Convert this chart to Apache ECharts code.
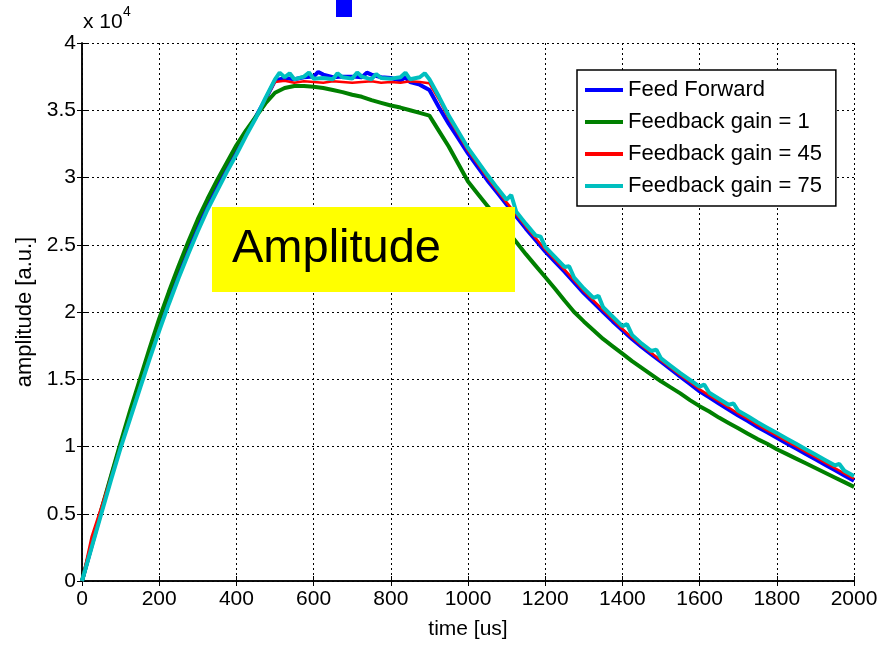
<!DOCTYPE html>
<html><head><meta charset="utf-8">
<script src="https://cdn.jsdelivr.net/npm/echarts@6/dist/echarts.min.js"></script>
<style>html,body{margin:0;padding:0;background:#fff}#c{width:881px;height:645px}</style>
</head><body><div id="c"></div>
<script>
// time axis [us]
const timeUs = [0,25,50,75,100,125,150,175,200,225,250,275,300,325,350,375,400,425,450,475,500,525,550,575,600,625,650,675,700,725,750,775,800,825,850,875,900,925,950,975,1000,1025,1050,1075,1100,1125,1150,1175,1200,1225,1250,1275,1300,1325,1350,1375,1400,1425,1450,1475,1500,1525,1550,1575,1600,1625,1650,1675,1700,1725,1750,1775,1800,1825,1850,1875,1900,1925,1950,1975,2000];
// amplitude in units of 1e4
const feedForward = [0,0.26,0.52,0.77,1.01,1.24,1.46,1.68,1.90,2.10,2.29,2.47,2.64,2.79,2.93,3.07,3.20,3.33,3.45,3.58,3.72,3.74,3.73,3.745,3.75,3.765,3.745,3.75,3.75,3.745,3.765,3.745,3.74,3.72,3.71,3.69,3.65,3.52,3.40,3.29,3.18,3.08,2.98,2.89,2.80,2.71,2.62,2.535,2.45,2.375,2.30,2.22,2.14,2.07,2.00,1.93,1.865,1.80,1.74,1.685,1.63,1.575,1.52,1.465,1.41,1.365,1.32,1.275,1.23,1.19,1.145,1.105,1.065,1.025,0.985,0.945,0.905,0.865,0.825,0.785,0.745];
const feedbackGain1 = [0,0.27,0.53,0.78,1.03,1.27,1.50,1.73,1.95,2.15,2.34,2.52,2.69,2.84,2.98,3.11,3.24,3.35,3.45,3.55,3.63,3.665,3.68,3.68,3.675,3.665,3.65,3.635,3.615,3.60,3.575,3.555,3.535,3.52,3.50,3.48,3.46,3.345,3.23,3.10,2.97,2.88,2.79,2.70,2.61,2.52,2.43,2.345,2.26,2.175,2.085,2.00,1.93,1.865,1.80,1.745,1.69,1.635,1.585,1.535,1.485,1.44,1.395,1.345,1.30,1.26,1.215,1.175,1.135,1.095,1.055,1.02,0.98,0.945,0.91,0.875,0.84,0.805,0.77,0.735,0.70];
const feedbackGain45 = [0,0.33,0.55,0.77,1.00,1.22,1.44,1.66,1.87,2.07,2.26,2.44,2.61,2.77,2.91,3.05,3.18,3.32,3.44,3.58,3.71,3.72,3.705,3.715,3.71,3.705,3.715,3.71,3.705,3.71,3.715,3.705,3.71,3.705,3.715,3.71,3.70,3.58,3.44,3.32,3.20,3.10,3.00,2.905,2.815,2.725,2.635,2.55,2.465,2.39,2.315,2.235,2.155,2.085,2.015,1.945,1.875,1.81,1.75,1.695,1.64,1.585,1.53,1.48,1.425,1.38,1.335,1.29,1.245,1.205,1.16,1.12,1.08,1.04,1.00,0.96,0.92,0.88,0.84,0.80,0.76];
const feedbackGain75 = [0,0.25,0.50,0.75,0.99,1.21,1.43,1.65,1.86,2.06,2.25,2.43,2.60,2.76,2.90,3.04,3.17,3.31,3.44,3.59,3.73,3.745,3.73,3.75,3.735,3.74,3.73,3.745,3.735,3.75,3.73,3.74,3.735,3.745,3.73,3.745,3.73,3.60,3.46,3.34,3.22,3.12,3.02,2.925,2.835,2.745,2.655,2.57,2.485,2.41,2.335,2.255,2.175,2.105,2.035,1.965,1.895,1.83,1.765,1.71,1.655,1.60,1.545,1.495,1.445,1.40,1.355,1.31,1.265,1.225,1.18,1.14,1.10,1.06,1.02,0.98,0.94,0.90,0.86,0.82,0.78];
// narrow noise spikes on the gain = 75 trace, [time us, amplitude 1e4]
const gain75Spikes = [[512,3.78],[538,3.775],[588,3.78],[662,3.775],[713,3.78],[762,3.77],[838,3.78],[888,3.775],[1112,2.87],[1188,2.56],[1262,2.34],[1338,2.12],[1412,1.91],[1488,1.72],[1612,1.46],[1688,1.32],[1962,0.87]];
const ffSpikes = [[612,3.785],[738,3.78],[837,3.745]];
const seriesNames = ['Feed Forward','Feedback gain = 1','Feedback gain = 45','Feedback gain = 75'];
const seriesColors = ['#0000ff','#008000','#ff0000','#00bfbf'];
const seriesWidths = [4,4,2.5,4];
const xTicks = {min:0,max:2000,interval:200};
const yTicks = {min:0,max:4,interval:0.5};

const allValues = [feedForward, feedbackGain1, feedbackGain45, feedbackGain75];
const extraPoints = [ffSpikes, [], [], gain75Spikes];
const font = "'Liberation Sans', Arial, sans-serif";
const chart = echarts.init(document.getElementById('c'), null, {renderer:'canvas'});
const grid = {left:82, right:27, top:43, bottom:61};
const axisLine = {show:true, lineStyle:{color:'#000', width:1.5}};
const tick = {show:true, inside:true, length:5, lineStyle:{color:'#000', width:1}};
function buildData(vals, extra){
  const pts = timeUs.map((t,k)=>[t, vals[k]]).concat(extra);
  pts.sort((a,b)=>a[0]-b[0]);
  return pts;
}
chart.setOption({
  animation:false,
  backgroundColor:'#fff',
  grid:grid,
  legend:{
    show:true, orient:'vertical', left:577, top:70,
    padding:[9,14,9,8], itemWidth:38, itemHeight:4, itemGap:10,
    icon:'rect', borderColor:'#000', borderWidth:1.5, backgroundColor:'#fff',
    textStyle:{fontFamily:font, fontSize:22, color:'#000'},
    data:seriesNames
  },
  xAxis:[{
    type:'value', min:xTicks.min, max:xTicks.max, interval:xTicks.interval,
    name:'time [us]', nameLocation:'middle', nameGap:38,
    nameTextStyle:{fontFamily:font, fontSize:21, color:'#000'},
    axisLine:axisLine, axisTick:tick,
    axisLabel:{fontFamily:font, fontSize:21, color:'#000', margin:8, formatter:v=>String(v)},
    splitLine:{show:true, lineStyle:{color:'#000', width:1, type:[2,3]}}
  },{
    type:'value', position:'top', min:xTicks.min, max:xTicks.max, interval:xTicks.interval,
    axisLine:axisLine, axisTick:tick, axisLabel:{show:false}, splitLine:{show:false}
  }],
  yAxis:[{
    type:'value', min:yTicks.min, max:yTicks.max, interval:yTicks.interval,
    name:'amplitude [a.u.]', nameLocation:'middle', nameGap:46,
    nameTextStyle:{fontFamily:font, fontSize:22, color:'#000'},
    axisLine:axisLine, axisTick:tick,
    axisLabel:{fontFamily:font, fontSize:21, color:'#000', margin:6, formatter:v=>String(v)},
    splitLine:{show:true, lineStyle:{color:'#000', width:1, type:[2,3]}}
  },{
    type:'value', position:'right', min:yTicks.min, max:yTicks.max, interval:yTicks.interval,
    axisLine:axisLine, axisTick:tick, axisLabel:{show:false}, splitLine:{show:false}
  }],
  series: allValues.map((vals,i)=>({
    name:seriesNames[i], type:'line', showSymbol:false, symbol:'none',
    data: buildData(vals, extraPoints[i]),
    lineStyle:{color:seriesColors[i], width:seriesWidths[i]},
    itemStyle:{color:seriesColors[i]},
    z:2+i
  })),
  graphic:[
    {type:'rect', left:336, top:0, shape:{width:16,height:17}, style:{fill:'#0000ff'}, z:100},
    {type:'text', left:83, top:12, style:{text:'x 10', font:"21px 'Liberation Sans', Arial, sans-serif", fill:'#000'}, z:100},
    {type:'text', left:123, top:5, style:{text:'4', font:"14px 'Liberation Sans', Arial, sans-serif", fill:'#000'}, z:100},
    {type:'rect', left:212, top:207, shape:{width:303,height:85}, style:{fill:'#ffff00'}, z:100},
    {type:'text', left:232, top:226, style:{text:'Amplitude', font:"47px 'Liberation Sans', Arial, sans-serif", fill:'#000'}, z:101}
  ]
});
</script></body></html>
